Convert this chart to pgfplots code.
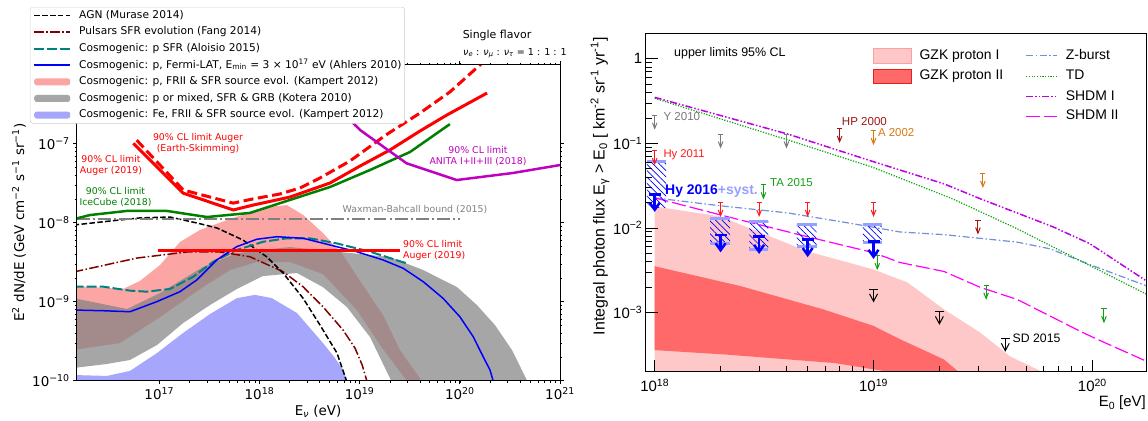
\documentclass[border=0pt]{standalone}
\usepackage{fontspec}
\setmainfont{DejaVu Sans}
\newfontfamily\lib{Liberation Sans}
\usepackage{pgfplots}
\pgfplotsset{compat=1.18}
\usetikzlibrary{patterns.meta}

\definecolor{pinkband}{RGB}{252,165,165}
\definecolor{grayband}{RGB}{128,128,128}
\definecolor{feband}{RGB}{166,166,252}
\definecolor{teal2}{RGB}{0,128,128}
\definecolor{darkred2}{RGB}{128,0,0}
\definecolor{green2}{RGB}{0,128,0}
\definecolor{magenta2}{RGB}{191,0,191}
\definecolor{wbgray}{RGB}{128,128,128}
\definecolor{legblue}{RGB}{0,0,255}

\definecolor{gzkI}{RGB}{255,200,200}
\definecolor{gzkIb}{RGB}{255,160,160}
\definecolor{gzkII}{RGB}{255,105,105}
\definecolor{gzkIIb}{RGB}{235,30,30}
\definecolor{zburst}{RGB}{110,145,215}
\definecolor{tdgreen}{RGB}{0,165,0}
\definecolor{shdmI}{RGB}{190,0,230}
\definecolor{shdmII}{RGB}{255,0,255}
\definecolor{ygray}{RGB}{120,120,120}
\definecolor{hyred}{RGB}{255,25,25}
\definecolor{hpred}{RGB}{160,20,20}
\definecolor{aorange}{RGB}{215,120,20}
\definecolor{tagreen}{RGB}{20,160,20}
\definecolor{hyblue}{RGB}{0,0,255}
\definecolor{systblue}{RGB}{150,160,255}

\pgfdeclareplotmark{ulthin}{%
  \pgfpathmoveto{\pgfqpoint{-2.6pt}{0pt}}\pgfpathlineto{\pgfqpoint{2.6pt}{0pt}}%
  \pgfpathmoveto{\pgfqpoint{0pt}{0pt}}\pgfpathlineto{\pgfqpoint{0pt}{-13pt}}%
  \pgfusepathqstroke
  \pgfpathmoveto{\pgfqpoint{-2.3pt}{-7.5pt}}\pgfpathlineto{\pgfqpoint{0pt}{-13.2pt}}%
  \pgfpathlineto{\pgfqpoint{2.3pt}{-7.5pt}}\pgfusepathqstroke}
\pgfdeclareplotmark{ulsd}{%
  \pgfpathmoveto{\pgfqpoint{-4.5pt}{0pt}}\pgfpathlineto{\pgfqpoint{4.5pt}{0pt}}%
  \pgfpathmoveto{\pgfqpoint{0pt}{0pt}}\pgfpathlineto{\pgfqpoint{0pt}{-11.5pt}}%
  \pgfusepathqstroke
  \pgfpathmoveto{\pgfqpoint{-4pt}{-4.5pt}}\pgfpathlineto{\pgfqpoint{0pt}{-12pt}}%
  \pgfpathlineto{\pgfqpoint{4pt}{-4.5pt}}\pgfusepathqstroke}
\pgfdeclareplotmark{ulhy}{%
  \pgfpathmoveto{\pgfqpoint{-6pt}{0pt}}\pgfpathlineto{\pgfqpoint{6pt}{0pt}}%
  \pgfpathmoveto{\pgfqpoint{0pt}{0pt}}\pgfpathlineto{\pgfqpoint{0pt}{-15pt}}%
  \pgfusepathqstroke
  \pgfpathmoveto{\pgfqpoint{-5pt}{-8.5pt}}\pgfpathlineto{\pgfqpoint{0pt}{-15.5pt}}%
  \pgfpathlineto{\pgfqpoint{5pt}{-8.5pt}}\pgfusepathqstroke}

\pgfplotsset{
  myarea/.style={legend image code/.code={\fill[##1, draw=none] (0bp,-3.5bp) rectangle (36bp,3.5bp);}},
  gzkarea/.style={legend image code/.code={\draw[##1] (0bp,-7.3bp) rectangle (38bp,7.3bp);}},
  gzkline/.style={legend image code/.code={\draw[##1] (0bp,0bp) -- (31bp,0bp);}},
}

\begin{document}
\begin{tikzpicture}
\path[use as bounding box] (0bp,0bp) rectangle (1148bp,-421bp);

%%%%%%%%%%%%%%%% LEFT PANEL %%%%%%%%%%%%%%%%
\begin{axis}[
  at={(76.7bp,-380.7bp)}, anchor=south west, scale only axis,
  width=483.3bp, height=316bp,
  xmode=log, ymode=log,
  xmin=1.5e16, xmax=1e21, ymin=1e-10, ymax=1e-6,
  axis on top,
  axis line style={black, line width=0.8bp},
  tick align=outside,
  major tick length=3.5bp, minor tick length=2bp,
  every tick/.style={black, line width=0.8bp},
  minor tick style={line width=0.6bp},
  xtick={1e17,1e18,1e19,1e20,1e21},
  xticklabels={10\textsuperscript{17},10\textsuperscript{18},10\textsuperscript{19},10\textsuperscript{20},10\textsuperscript{21}},
  ytick={1e-10,1e-9,1e-8,1e-7},
  yticklabels={10\textsuperscript{−10},10\textsuperscript{−9},10\textsuperscript{−8},10\textsuperscript{−7}},
  ticklabel style={font=\fontsize{13.5}{16}\selectfont},
  legend cell align=left,
  legend image code/.code={\draw[#1] (0bp,0bp) -- (36bp,0bp);},
  legend style={at={(axis description cs:-0.0966,1.1826)}, anchor=north west,
    draw=black!20, fill=white, rounded corners=2.5bp,
    inner xsep=3bp, inner ysep=2.5bp,
    font=\fontsize{10.7}{12}\selectfont,
    row sep=5.1bp, column sep=8bp,
    nodes={inner sep=0pt, text height=8.5bp, text depth=3bp}},
]
\addlegendimage{color=black, line width=1.8bp, dash pattern=on 5.5bp off 2.4bp}
\addlegendentry{AGN (Murase 2014)}
\addlegendimage{color=darkred2, line width=1.6bp, dash pattern=on 9.6bp off 2.4bp on 1.5bp off 2.4bp}
\addlegendentry{Pulsars SFR evolution (Fang 2014)}
\addlegendimage{color=teal2, line width=2bp, dash pattern=on 10bp off 3bp}
\addlegendentry{Cosmogenic: p SFR (Aloisio 2015)}
\addlegendimage{color=legblue, line width=1.8bp}
\addlegendentry{Cosmogenic: p, Fermi-LAT, E\textsubscript{min} = 3 × 10\textsuperscript{17} eV (Ahlers 2010)}
\addlegendimage{myarea, fill=pinkband}
\addlegendentry{Cosmogenic: p, FRII \& SFR source evol. (Kampert 2012)}
\addlegendimage{myarea, fill=black!35}
\addlegendentry{Cosmogenic: p or mixed, SFR \& GRB (Kotera 2010)}
\addlegendimage{myarea, fill=feband}
\addlegendentry{Cosmogenic: Fe, FRII \& SFR source evol. (Kampert 2012)}

% pink band (Kampert p)
\addplot[fill=pinkband, draw=none, forget plot] coordinates {
(1.4e16,1.58e-9) (4.35e16,1.45e-9) (6.41e16,1.83e-9) (1.02e17,2.92e-9) (1.61e17,5.70e-9)
(2.55e17,8.09e-9) (5.44e17,1.15e-8) (1.19e18,1.58e-8) (1.88e18,1.67e-8) (2.74e18,1.25e-8)
(4.30e18,7.41e-9) (6.82e18,3.90e-9) (9.62e18,2.0e-9) (1.71e19,6.79e-10) (2.52e19,2.45e-10)
(4.4e19,9e-11) (3.05e19,9e-11) (2.97e19,9.9e-11) (2.25e19,1.58e-10) (1.60e19,2.83e-10)
(9.40e18,7.85e-10) (4.30e18,2.24e-9) (2.01e18,3.18e-9) (9.44e17,3.18e-9) (5.08e17,2.52e-9)
(2.73e17,1.53e-9) (1.02e17,6.40e-10) (4.06e16,3.0e-10) (1.4e16,2.45e-10)} -- cycle;

% gray band (Kotera)
\addplot[fill=grayband, fill opacity=0.7, draw=none, forget plot] coordinates {
(1.4e16,1.11e-9) (4.76e16,8.09e-10) (1.02e17,1.29e-9) (2.73e17,2.75e-9) (5.96e17,4.13e-9)
(1.08e18,4.51e-9) (2.01e18,4.92e-9) (4.02e18,4.51e-9) (1.01e19,4.02e-9) (2.01e19,3.67e-9)
(4.30e19,2.52e-9) (9.37e19,1.53e-9) (1.48e20,9.08e-10) (2.24e20,5.07e-10) (3.31e20,2.45e-10)
(4.9e20,9e-11) (2.15e19,9e-11) (1.27e19,3.57e-10) (7.46e18,8.57e-10) (4.30e18,1.53e-9)
(2.37e18,2.31e-9) (1.08e18,2.11e-9) (5.96e17,1.45e-9) (3.21e17,9.08e-10) (1.73e17,5.37e-10)
(9.49e16,2.83e-10) (5.10e16,1.83e-10) (3.01e16,1.63e-10) (1.4e16,1.45e-10)} -- cycle;

% blue band (Kampert Fe)
\addplot[fill=feband, draw=none, forget plot] coordinates {
(1.4e16,1.18e-10) (3.01e16,1.15e-10) (5.10e16,1.33e-10) (9.49e16,2.24e-10) (1.73e17,4.02e-10)
(3.21e17,6.98e-10) (5.96e17,1.11e-9) (9.02e17,1.22e-9) (1.33e18,1.11e-9) (2.37e18,7.19e-10)
(4.30e18,3.0e-10) (5.67e18,1.94e-10) (6.82e18,1.37e-10) (7.8e18,9e-11) (7.8e18,5e-11) (1.4e16,5e-11)} -- cycle;

% Pulsars
\addplot[darkred2, line width=1.5bp, dash pattern=on 9.6bp off 2.4bp on 1.5bp off 2.4bp, forget plot] coordinates {
(1.4e16,2.38e-9) (5.98e16,3.57e-9) (1.89e17,4.26e-9) (4.04e17,4.26e-9) (8.04e17,3.71e-9)
(1.72e18,2.40e-9) (2.72e18,1.55e-9) (4.30e18,8.65e-10) (6.82e18,4.39e-10) (8.99e18,2.59e-10)
(1.06e19,1.58e-10) (1.19e19,9.6e-11)};
% AGN
\addplot[black, line width=1.5bp, dash pattern=on 5.5bp off 2.4bp, forget plot] coordinates {
(1.4e16,9.35e-9) (3.22e16,1.05e-8) (6.41e16,1.15e-8) (1.28e17,1.18e-8) (2.38e17,9.91e-9)
(3.77e17,8.57e-9) (6.84e17,6.04e-9) (1.19e18,3.68e-9) (1.72e18,2.31e-9) (2.72e18,1.11e-9)
(4.02e18,5.07e-10) (5.94e18,2.24e-10) (7.6e18,9e-11)};
% Teal Aloisio
\addplot[teal2, line width=2bp, dash pattern=on 10bp off 3bp, forget plot] coordinates {
(1.4e16,1.55e-9) (2.76e16,1.55e-9) (5.10e16,1.38e-9) (7.48e16,1.34e-9) (1.28e17,1.45e-9)
(2.18e17,2.07e-9) (3.46e17,3.21e-9) (5.92e17,4.51e-9) (1.09e18,5.74e-9) (1.87e18,6.35e-9)
(3.19e18,6.35e-9) (5.89e18,5.48e-9) (1.27e19,4.30e-9) (2.94e19,3.06e-9)};
% Blue Ahlers
\addplot[blue, line width=1.5bp, forget plot] coordinates {
(1.4e16,7.85e-10) (2.76e16,7.69e-10) (5.10e16,7.47e-10) (9.42e16,1.0e-9) (1.61e17,1.34e-9)
(2.36e17,1.88e-9) (3.74e17,3.37e-9) (5.92e17,4.97e-9) (9.38e17,6.17e-9) (1.49e18,6.65e-9)
(2.74e18,6.35e-9) (5.06e18,5.22e-9) (9.33e18,4.30e-9) (1.72e19,3.37e-9) (2.72e19,2.65e-9)
(4.32e19,1.79e-9) (6.82e19,1.10e-9) (1.0e20,6.46e-10) (1.36e20,3.61e-10) (1.71e20,2.01e-10)
(2.0e20,1.37e-10) (2.2e20,9e-11)};
% Waxman-Bahcall
\addplot[wbgray, line width=2bp, dash pattern=on 12.8bp off 3.2bp on 2bp off 3.2bp, forget plot] coordinates {
(1.5e16,1.13e-8) (1.0e20,1.13e-8)};
% Auger 2019 horizontal
\addplot[red, line width=3bp, forget plot] coordinates {(9.77e16,4.42e-9) (2.52e19,4.42e-9)};
% IceCube
\addplot[green2, line width=2.5bp, forget plot] coordinates {
(1.4e16,1.11e-8) (2.03e16,1.25e-8) (4.76e16,1.41e-8) (1.19e17,1.41e-8) (2.99e17,1.18e-8)
(8.04e17,1.33e-8) (2.01e18,1.94e-8) (5.06e18,2.83e-8) (1.27e19,4.65e-8) (3.18e19,7.85e-8)
(7.96e19,1.77e-7)};
% Auger Earth-skimming (dashed)
\addplot[red, line width=3bp, dash pattern=on 10bp off 4.5bp, forget plot] coordinates {
(5.95e16,1.11e-7) (1.74e17,2.59e-8) (5.48e17,1.77e-8) (8.61e17,2.0e-8) (1.6e18,2.31e-8)
(2.54e18,2.75e-8) (4.02e18,3.68e-8) (8.0e18,6.04e-8) (1.83e19,1.29e-7) (4.01e19,2.45e-7)
(7.96e19,4.52e-7) (2.0e20,1.29e-6)};
% Auger 2019 (solid)
\addplot[red, line width=3bp, forget plot] coordinates {
(5.51e16,1.01e-7) (1.74e17,2.36e-8) (5.48e17,1.45e-8) (8.61e17,1.67e-8) (2.01e18,2.11e-8)
(5.06e18,3.18e-8) (1.01e19,5.22e-8) (2.01e19,8.34e-8) (4.01e19,1.45e-7) (7.43e19,2.31e-7)
(1.87e20,4.38e-7)};
% ANITA
\addplot[magenta2, line width=2.5bp, forget plot] coordinates {
(7.71e18,2.11e-7) (8.97e18,1.73e-7) (1.01e19,1.49e-7) (2.94e19,5.65e-8) (9.29e19,3.47e-8)
(3.39e20,4.26e-8) (1.0e21,5.37e-8)};
\end{axis}

% left panel texts
\begin{scope}[every node/.style={font=\fontsize{9.4}{11}\selectfont, align=center, inner sep=0pt}]
\node[red] at (198bp,-143bp) {90\% CL limit Auger\\(Earth-Skimming)};
\node[red] at (111bp,-165.5bp) {90\% CL limit\\Auger (2019)};
\node[green2] at (115.5bp,-196.7bp) {90\% CL limit\\IceCube (2018)};
\node[magenta2] at (478bp,-156.2bp) {90\% CL limit\\ANITA I+II+III (2018)};
\node[wbgray] at (415bp,-210bp) {Waxman-Bahcall bound (2015)};
\node[red, align=left, anchor=west] at (403bp,-250.5bp) {90\% CL limit\\Auger (2019)};
\end{scope}
\node[font=\fontsize{11}{13}\selectfont, inner sep=0pt] at (497bp,-35.7bp) {Single flavor};
\node[font=\fontsize{9.6}{11}\selectfont, inner sep=0pt, anchor=west] at (463bp,-53.3bp)
  {\textit{ν}\textsubscript{\textit{e}} : \textit{ν}\textsubscript{\textit{μ}} : \textit{ν}\textsubscript{\textit{τ}} = 1 : 1 : 1};
\node[font=\fontsize{13.5}{16}\selectfont, inner sep=0pt] at (318bp,-411bp) {E\textsubscript{\textit{ν}} (eV)};
\node[font=\fontsize{13.5}{16}\selectfont, inner sep=0pt, rotate=90] at (19bp,-222.7bp)
  {E\textsuperscript{2} dN/dE (GeV cm\textsuperscript{−2} s\textsuperscript{−1} sr\textsuperscript{−1})};

%%%%%%%%%%%%%%%% RIGHT PANEL %%%%%%%%%%%%%%%%
\begin{axis}[
  at={(645.7bp,-371.7bp)}, anchor=south west, scale only axis,
  width=500.3bp, height=338.4bp,
  xmode=log, ymode=log,
  xmin=9.1e17, xmax=1.76e20, ymin=2e-4, ymax=2,
  axis on top,
  axis line style={black, line width=0.9bp},
  tick align=inside, xtick pos=left, ytick pos=left,
  major tick length=12bp, minor tick length=6bp,
  every tick/.style={black, line width=0.8bp},
  xtick={1e18,1e19,1e20},
  xticklabels={10\textsuperscript{18},10\textsuperscript{19},10\textsuperscript{20}},
  ytick={1e-3,1e-2,1e-1,1},
  yticklabels={10\textsuperscript{−3},10\textsuperscript{−2},10\textsuperscript{−1},1},
  ticklabel style={font=\lib\fontsize{15}{18}\selectfont},
  xticklabel style={yshift=-4bp},
  legend columns=2,
  legend cell align=left,
  legend style={at={(axis description cs:0.4543,0.9566)}, anchor=north west,
    draw=none, fill=none, inner sep=0pt,
    font=\lib\fontsize{14}{16}\selectfont,
    row sep=5.7bp, column sep=8bp,
    /tikz/every even column/.append style={column sep=22bp},
    nodes={inner sep=0pt, text height=10.5bp, text depth=3.5bp}},
]
\addlegendimage{gzkarea, fill=gzkI, draw=gzkIb}
\addlegendentry{GZK proton I}
\addlegendimage{gzkline, color=zburst, line width=1.2bp, dash pattern=on 7bp off 2.5bp on 1.5bp off 2.5bp}
\addlegendentry{Z-burst}
\addlegendimage{gzkarea, fill=gzkII, draw=gzkIIb}
\addlegendentry{GZK proton II}
\addlegendimage{gzkline, color=tdgreen, line width=1.2bp, dash pattern=on 1.2bp off 1.5bp}
\addlegendentry{TD}
\addlegendimage{empty legend}
\addlegendentry{}
\addlegendimage{gzkline, color=shdmI, line width=1.5bp, dash pattern=on 7bp off 2bp on 1.5bp off 2bp on 1.5bp off 2bp}
\addlegendentry{SHDM I}
\addlegendimage{empty legend}
\addlegendentry{}
\addlegendimage{gzkline, color=shdmII, line width=1.2bp, dash pattern=on 14bp off 4bp}
\addlegendentry{SHDM II}

% GZK proton I
\addplot[fill=gzkI, draw=none, forget plot] coordinates {
(1e18,1.80e-2) (1.99e18,1.37e-2) (4.96e18,5.31e-3) (1e19,3.23e-3) (1.43e19,2.27e-3)
(2.10e19,1.09e-3) (3.08e19,5.78e-4) (4.19e19,3.05e-4) (5.91e19,1.99e-4) (6.5e19,1.2e-4)
(1e18,1.2e-4)} -- cycle;
% GZK proton II
\addplot[fill=gzkII, draw=none, forget plot] coordinates {
(1e18,3.53e-3) (2.46e18,2.06e-3) (5.90e18,1.09e-3) (1e19,6.96e-4) (1.32e19,4.85e-4)
(2.10e19,2.79e-4) (2.45e19,1.99e-4) (2.6e19,1.2e-4) (1.25e19,1.2e-4) (1.18e19,1.99e-4)
(6.66e18,2.53e-4) (2.11e18,3.19e-4) (1e18,3.60e-4)} -- cycle;

% Z-burst
\addplot[zburst, line width=1.2bp, dash pattern=on 7bp off 2.5bp on 1.5bp off 2.5bp, forget plot] coordinates {
(1e18,2.27e-2) (1.99e18,1.83e-2) (4.03e18,1.51e-2) (7.04e18,1.19e-2) (9.77e18,1.03e-2)
(1.32e19,8.97e-3) (2.10e19,8.34e-3) (4.52e19,6.81e-3) (6.39e19,5.68e-3) (1.05e20,3.43e-3)
(1.76e20,2.08e-3)};
% TD
\addplot[tdgreen, line width=1.2bp, dash pattern=on 1.2bp off 1.5bp, forget plot] coordinates {
(1e18,0.341) (4.05e18,0.110) (9.77e18,5.28e-2) (2.27e19,2.24e-2) (4.52e19,9.82e-3)
(9.73e19,3.60e-3) (1.76e20,1.66e-3)};
% SHDM I
\addplot[shdmI, line width=1.5bp, dash pattern=on 7bp off 2bp on 1.5bp off 2bp on 1.5bp off 2bp, forget plot] coordinates {
(1e18,0.350) (4.05e18,0.129) (9.77e18,6.19e-2) (2.10e19,3.32e-2) (3.08e19,2.21e-2)
(6.62e19,1.03e-2) (9.73e19,6.53e-3) (1.76e20,2.38e-3)};
% SHDM II
\addplot[shdmII, line width=1.2bp, dash pattern=on 14bp off 4bp, forget plot] coordinates {
(1e18,2.27e-2) (1.99e18,1.43e-2) (4.97e18,7.90e-3) (9.96e18,5.12e-3) (1.32e19,3.91e-3)
(2.10e19,3.06e-3) (3.07e19,1.99e-3) (4.53e19,1.43e-3) (8.98e19,5.86e-4) (1.05e20,4.85e-4)
(1.76e20,2.67e-4)};

% Hy 2016 systematic boxes
\addplot[pattern={Lines[angle=-45,distance=4.5bp,line width=0.7bp]}, pattern color=hyblue, draw=none, forget plot]
  coordinates {(9.2e17,0.0603) (1.127e18,0.0603) (1.127e18,0.0173) (9.2e17,0.0173)} -- cycle;
\addplot[pattern={Lines[angle=-45,distance=4.5bp,line width=0.7bp]}, pattern color=hyblue, draw=none, forget plot]
  coordinates {(1.79e18,0.0131) (2.21e18,0.0131) (2.21e18,6.5e-3) (1.79e18,6.5e-3)} -- cycle;
\addplot[pattern={Lines[angle=-45,distance=4.5bp,line width=0.7bp]}, pattern color=hyblue, draw=none, forget plot]
  coordinates {(2.71e18,0.012) (3.31e18,0.012) (3.31e18,5.6e-3) (2.71e18,5.6e-3)} -- cycle;
\addplot[pattern={Lines[angle=-45,distance=4.5bp,line width=0.7bp]}, pattern color=hyblue, draw=none, forget plot]
  coordinates {(4.46e18,0.011) (5.50e18,0.011) (5.50e18,6.1e-3) (4.46e18,6.1e-3)} -- cycle;
\addplot[pattern={Lines[angle=-45,distance=4.5bp,line width=0.7bp]}, pattern color=hyblue, draw=none, forget plot]
  coordinates {(8.93e18,0.011) (1.09e19,0.011) (1.09e19,6.7e-3) (8.93e18,6.7e-3)} -- cycle;
% syst bars
\addplot[systblue, line width=3bp, forget plot] coordinates {(9.2e17,0.0603) (1.127e18,0.0603)};
\addplot[systblue, line width=3bp, forget plot] coordinates {(1.79e18,0.0131) (2.21e18,0.0131)};
\addplot[systblue, line width=3bp, forget plot] coordinates {(1.79e18,6.5e-3) (2.21e18,6.5e-3)};
\addplot[systblue, line width=3bp, forget plot] coordinates {(2.71e18,0.012) (3.31e18,0.012)};
\addplot[systblue, line width=3bp, forget plot] coordinates {(2.71e18,5.6e-3) (3.31e18,5.6e-3)};
\addplot[systblue, line width=3bp, forget plot] coordinates {(4.46e18,0.011) (5.50e18,0.011)};
\addplot[systblue, line width=3bp, forget plot] coordinates {(4.46e18,6.1e-3) (5.50e18,6.1e-3)};
\addplot[systblue, line width=3bp, forget plot] coordinates {(8.93e18,0.011) (1.09e19,0.011)};
\addplot[systblue, line width=3bp, forget plot] coordinates {(8.93e18,6.7e-3) (1.09e19,6.7e-3)};

% upper limits
\addplot[only marks, mark=ulthin, ygray, line width=1bp, forget plot] coordinates {(1e18,0.215) (2e18,0.129) (4e18,0.129)};
\addplot[only marks, mark=ulthin, hyred, line width=1bp, forget plot] coordinates {(1e18,0.082) (2e18,0.020) (3e18,0.020) (5e18,0.020) (1e19,0.020)};
\addplot[only marks, mark=ulthin, aorange, line width=1bp, forget plot] coordinates {(1e19,0.141) (3.16e19,0.044)};
\addplot[only marks, mark=ulthin, hpred, line width=1bp, forget plot] coordinates {(7e18,0.15) (3e19,0.0124)};
\addplot[only marks, mark=ulthin, tagreen, line width=1bp, forget plot] coordinates {(3.14e18,0.0323) (1.04e19,4.7e-3) (3.27e19,2.1e-3) (1.13e20,1.11e-3)};
\addplot[only marks, mark=ulsd, black, line width=1bp, forget plot] coordinates {(1e19,1.88e-3) (2e19,1.02e-3) (4e19,4.9e-4)};
\addplot[only marks, mark=ulhy, hyblue, line width=2.5bp, forget plot] coordinates {(1e18,0.025) (2e18,8.3e-3) (3e18,7.96e-3) (5e18,7.3e-3) (1e19,6.95e-3)};
\end{axis}

% right panel texts
\begin{scope}[every node/.style={inner sep=0pt, anchor=west}]
\node[font=\lib\fontsize{12.5}{14}\selectfont] at (674bp,-52.8bp) {upper limits 95\% CL};
\node[font=\lib\fontsize{11.6}{13}\selectfont, ygray] at (663.3bp,-116.5bp) {Y 2010};
\node[font=\lib\fontsize{11.3}{13}\selectfont, hyred] at (663.3bp,-155bp) {Hy 2011};
\node[font=\lib\bfseries\fontsize{14}{16}\selectfont, hyblue] at (665bp,-191.5bp) {Hy 2016\textcolor{systblue}{+syst.}};
\node[font=\lib\fontsize{11.5}{13}\selectfont, tagreen] at (770bp,-183bp) {TA 2015};
\node[font=\lib\fontsize{11.6}{13}\selectfont, hpred] at (841.7bp,-121.5bp) {HP 2000};
\node[font=\lib\fontsize{11.5}{13}\selectfont, aorange] at (877.8bp,-132.2bp) {A 2002};
\node[font=\lib\fontsize{12.3}{14}\selectfont, black] at (1012.5bp,-338.6bp) {SD 2015};
\end{scope}
\node[font=\lib\fontsize{15}{18}\selectfont, inner sep=0pt, anchor=east] at (1146bp,-403bp) {E\textsubscript{0} [eV]};
\node[font=\lib\fontsize{16}{19}\selectfont, inner sep=0pt, rotate=90, anchor=east] at (600bp,-37bp)
  {Integral photon flux E\textsubscript{γ} > E\textsubscript{0} [ km\textsuperscript{-2} sr\textsuperscript{-1} yr\textsuperscript{-1}]};
\end{tikzpicture}
\end{document}
